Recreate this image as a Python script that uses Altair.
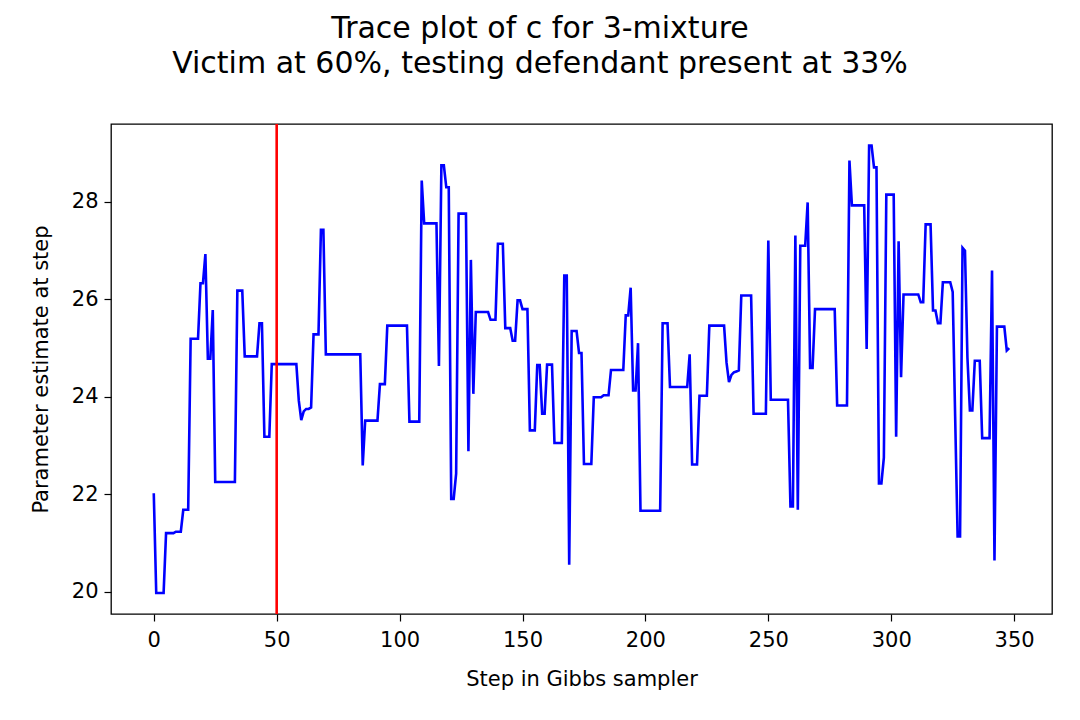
import altair as alt
import pandas as pd

# Gibbs sampler trace of parameter c (steps 0..348)
c_values = [
    22.02, 19.97, 19.97, 19.97, 19.97, 21.20, 21.20, 21.20, 21.20, 21.23,
    21.23, 21.23, 21.68, 21.68, 21.68, 25.19, 25.19, 25.19, 25.19, 26.33,
    26.33, 26.93, 24.78, 24.78, 25.78, 22.25, 22.25, 22.25, 22.25, 22.25,
    22.25, 22.25, 22.25, 22.25, 26.18, 26.18, 26.18, 24.83, 24.83, 24.83,
    24.83, 24.83, 24.83, 25.51, 25.51, 23.18, 23.18, 23.18, 24.67, 24.67,
    24.67, 24.67, 24.67, 24.67, 24.67, 24.67, 24.67, 24.67, 24.67, 23.92,
    23.52, 23.70, 23.75, 23.75, 23.78, 25.28, 25.28, 25.28, 27.43, 27.43,
    24.87, 24.87, 24.87, 24.87, 24.87, 24.87, 24.87, 24.87, 24.87, 24.87,
    24.87, 24.87, 24.87, 24.87, 24.87, 22.59, 23.51, 23.51, 23.51, 23.51,
    23.51, 23.51, 24.26, 24.26, 24.26, 25.46, 25.46, 25.46, 25.46, 25.46,
    25.46, 25.46, 25.46, 25.46, 23.49, 23.49, 23.49, 23.49, 23.49, 28.44,
    27.56, 27.56, 27.56, 27.56, 27.56, 27.56, 24.63, 28.75, 28.75, 28.30,
    28.30, 21.90, 21.90, 22.42, 27.76, 27.76, 27.76, 27.76, 22.88, 26.81,
    24.06, 25.74, 25.74, 25.74, 25.74, 25.74, 25.74, 25.58, 25.58, 25.58,
    27.14, 27.14, 27.14, 25.41, 25.41, 25.41, 25.15, 25.15, 25.98, 25.98,
    25.80, 25.80, 25.80, 23.31, 23.31, 23.31, 24.65, 24.65, 23.65, 23.65,
    24.66, 24.66, 24.66, 23.05, 23.05, 23.05, 23.05, 26.49, 26.49, 20.55,
    25.35, 25.35, 25.35, 24.90, 24.90, 22.62, 22.62, 22.62, 22.62, 23.99,
    23.99, 23.99, 23.99, 24.03, 24.03, 24.03, 24.55, 24.55, 24.55, 24.55,
    24.55, 24.55, 25.67, 25.67, 26.24, 24.13, 24.13, 25.10, 21.66, 21.66,
    21.66, 21.66, 21.66, 21.66, 21.66, 21.66, 21.66, 25.51, 25.51, 25.51,
    24.20, 24.20, 24.20, 24.20, 24.20, 24.20, 24.20, 24.20, 24.87, 22.61,
    22.61, 22.61, 24.02, 24.02, 24.02, 24.02, 25.46, 25.46, 25.46, 25.46,
    25.46, 25.46, 25.46, 24.70, 24.30, 24.45, 24.50, 24.52, 24.54, 26.08,
    26.08, 26.08, 26.08, 26.08, 23.65, 23.65, 23.65, 23.65, 23.65, 23.65,
    27.21, 23.94, 23.94, 23.94, 23.94, 23.94, 23.94, 23.94, 23.94, 21.75,
    21.75, 27.31, 21.68, 27.10, 27.10, 27.10, 27.99, 24.59, 24.59, 25.80,
    25.80, 25.80, 25.80, 25.80, 25.80, 25.80, 25.80, 25.80, 23.82, 23.82,
    23.82, 23.82, 23.82, 28.85, 27.93, 27.93, 27.93, 27.93, 27.93, 27.93,
    24.98, 29.16, 29.16, 28.71, 28.71, 22.22, 22.22, 22.75, 28.15, 28.15,
    28.15, 28.15, 23.18, 27.19, 24.40, 26.10, 26.10, 26.10, 26.10, 26.10,
    26.10, 26.10, 25.94, 25.94, 27.54, 27.54, 27.54, 25.77, 25.77, 25.51,
    25.51, 26.35, 26.35, 26.35, 26.35, 26.15, 23.60, 21.13, 21.13, 27.06,
    27.00, 24.80, 23.72, 23.72, 24.74, 24.74, 24.74, 23.15, 23.15, 23.15,
    23.15, 26.59, 20.64, 25.44, 25.44, 25.44, 25.44, 24.95, 25.00,
]
steps = list(range(len(c_values)))
burn_in = [50]
x_ticks = [0, 50, 100, 150, 200, 250, 300, 350]
y_ticks = [20, 22, 24, 26, 28]
title_lines = ["Trace plot of c for 3-mixture",
               "Victim at 60%, testing defendant present at 33%"]

df = pd.DataFrame({"step": steps, "c": c_values})
rule_df = pd.DataFrame({"step": burn_in})

FONT = "DejaVu Sans"
x_scale = alt.Scale(domain=[-17.4, 365.4], nice=False, zero=False)
y_scale = alt.Scale(domain=[19.54, 29.6], nice=False, zero=False)

axis_common = dict(
    grid=False, domain=False, ticks=True, tickSize=7, tickWidth=1.2,
    tickColor="black", labelColor="black", labelFont=FONT, labelFontSize=21,
    titleFont=FONT, titleFontSize=21, titleFontWeight="normal", titleColor="black",
)

line = alt.Chart(df).mark_line(color="#0000ff", strokeWidth=2.6, clip=True).encode(
    x=alt.X("step:Q", scale=x_scale,
            axis=alt.Axis(values=x_ticks, title="Step in Gibbs sampler",
                          labelPadding=8, titlePadding=18, **axis_common)),
    y=alt.Y("c:Q", scale=y_scale,
            axis=alt.Axis(values=y_ticks, title="Parameter estimate at step",
                          labelPadding=6, titlePadding=20, **axis_common)),
)

rule = alt.Chart(rule_df).mark_rule(color="#ff0000", strokeWidth=2.6).encode(
    x=alt.X("step:Q", scale=x_scale)
)

chart = (line + rule).properties(
    width=941,
    height=490,
    title=alt.TitleParams(
        text=title_lines, font=FONT, fontSize=30, fontWeight="normal",
        color="black", anchor="middle", dx=-41.5, lineHeight=35, offset=44,
    ),
    padding={"left": 103, "top": 116, "right": 16, "bottom": 90},
    autosize="none",
).configure_view(stroke="black", strokeWidth=1.3)

chart.save("out.html", embed_options={"renderer": "svg", "actions": False})
